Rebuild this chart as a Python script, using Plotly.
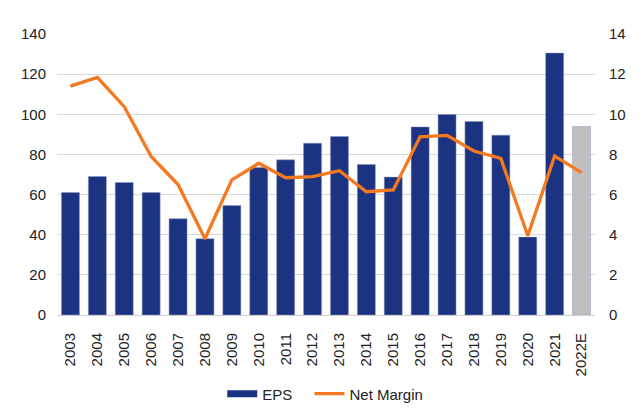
import plotly.graph_objects as go

# Data
years = ['2003', '2004', '2005', '2006', '2007', '2008', '2009', '2010', '2011', '2012',
         '2013', '2014', '2015', '2016', '2017', '2018', '2019', '2020', '2021', '2022E']
eps = [61, 69, 66, 61, 48, 38, 54.5, 73.5, 77.3, 85.6,
       88.9, 75, 68.7, 93.7, 99.9, 96.4, 89.6, 38.8, 130.5, 93.9]
net_margin = [11.4, 11.84, 10.38, 7.9, 6.5, 3.8, 6.73, 7.56, 6.84, 6.89,
              7.19, 6.14, 6.23, 8.88, 8.95, 8.17, 7.8, 3.95, 7.92, 7.09]

navy = '#1B3380'
grey = '#BFBFBF'
orange = '#F47920'
bar_colors = [grey if y.endswith('E') else navy for y in years]

fig = go.Figure()

fig.add_trace(go.Bar(
    x=years, y=eps, name='EPS', showlegend=False,
    marker=dict(color=bar_colors, line=dict(color='#8D9AC4', width=0.5)),
))

# legend swatch for EPS as a wide flat rectangle (like the original)
fig.add_trace(go.Scatter(
    x=[None], y=[None], name='EPS', mode='lines',
    line=dict(color=navy, width=7), legend='legend',
))

fig.add_trace(go.Scatter(
    x=years, y=net_margin, name='Net Margin', yaxis='y2',
    mode='lines', line=dict(color=orange, width=3.3), legend='legend2',
))

legend_style = dict(orientation='h', xref='container', yref='container',
                    xanchor='left', y=0.04, yanchor='middle',
                    font=dict(size=15), itemwidth=30)

# page body has an 8px margin, so the figure is a bit smaller than the window
fig.update_layout(
    width=632, height=402,
    margin=dict(l=49, r=45, t=26, b=95),
    paper_bgcolor='white', plot_bgcolor='white',
    font=dict(family='Liberation Sans, Arial, sans-serif', size=15, color='#222222'),
    bargap=0.33,
    showlegend=True,
    legend=dict(x=0.339, **legend_style),
    legend2=dict(x=0.477, **legend_style),
    xaxis=dict(tickangle=-90, showgrid=False, showline=True, linecolor='#D0D0D0',
               ticks='outside', ticklen=11, tickcolor='rgba(0,0,0,0)',
               automargin=False),
    yaxis=dict(range=[0, 140], dtick=20, showgrid=True, gridcolor='#D9D9D9', gridwidth=1.2,
               zeroline=False, ticks='outside', ticklen=7, tickcolor='rgba(0,0,0,0)',
               automargin=False),
    yaxis2=dict(range=[0, 14], dtick=2, overlaying='y', side='right', showgrid=False,
                zeroline=False, ticks='outside', ticklen=10, tickcolor='rgba(0,0,0,0)',
                automargin=False),
)

fig.write_html('out.html')
